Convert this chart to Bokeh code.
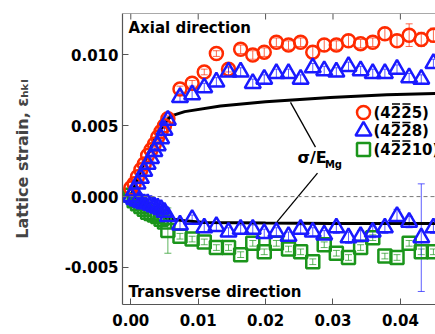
from bokeh.plotting import figure
from bokeh.models import (ColumnDataSource, Range1d, LinearAxis, FixedTicker, NumeralTickFormatter,
                          Span, Whisker, TeeHead)
from bokeh.core.properties import value
from bokeh.embed import file_html
from bokeh.resources import INLINE

# ---------------- data ----------------
x_early = [0.0000, 0.0005, 0.0010, 0.0015, 0.0020, 0.0025, 0.0030, 0.0035, 0.0040, 0.0045, 0.0050, 0.0055]
x_late = [0.0073, 0.0091, 0.0109, 0.0127, 0.0145, 0.0163, 0.0181, 0.0198, 0.0216, 0.0234, 0.0252,
          0.0270, 0.0287, 0.0305, 0.0323, 0.0341, 0.0359, 0.0377, 0.0395, 0.0413, 0.0431, 0.0449]

# (4-2-25) axial
red_early = [0.0006, 0.0009, 0.0014, 0.0019, 0.0023, 0.0029, 0.0033, 0.0037, 0.0042, 0.0046, 0.0050, 0.0055]
red_late = [0.0076, 0.0080, 0.0088, 0.0101, 0.0090, 0.0104, 0.0100, 0.0102, 0.0109, 0.0107, 0.0109,
            0.0102, 0.0107, 0.0107, 0.0110, 0.0108, 0.0109, 0.0115, 0.0110, 0.0114, 0.0111, 0.0114]
red_err_early = [0.0002] * 12
red_err_late = [0.0002, 0.0002, 0.0002, 0.0002, 0.0002, 0.0003, 0.0003, 0.0003, 0.0003, 0.0003, 0.0003,
                0.0004, 0.0004, 0.0003, 0.0004, 0.0003, 0.0003, 0.0004, 0.0004, 0.0008, 0.0005, 0.0005]

# (4-2-28) axial
blue_early = [0.0000, 0.0004, 0.0009, 0.0013, 0.0018, 0.0023, 0.0027, 0.0032, 0.0036, 0.0041, 0.0047, 0.0054]
blue_late = [0.0070, 0.0072, 0.0077, 0.0081, 0.0088, 0.0088, 0.0080, 0.0083, 0.0087, 0.0087, 0.0083,
             0.0091, 0.0089, 0.0088, 0.0092, 0.0089, 0.0087, 0.0087, 0.0090, 0.0084, 0.0083, 0.0094]
blue_err_early = [0.0002] * 12
blue_err_late = [0.0003] * 22

# (4-2-28) transverse
blue_t_early = [0.0000, -0.0002, -0.0003, -0.0004, -0.0005, -0.0005, -0.0006, -0.0007, -0.0008, -0.0009, -0.0011, -0.0014]
blue_t_late = [-0.0020, -0.0016, -0.0022, -0.0021, -0.0025, -0.0023, -0.0023, -0.0026, -0.0025, -0.0028, -0.0023,
               -0.0025, -0.0027, -0.0022, -0.0029, -0.0028, -0.0025, -0.0022, -0.0014, -0.0018, -0.0029, -0.0022]
blue_t_err_early = [0.0002] * 12
blue_t_err_late = [0.0003, 0.0003, 0.0003, 0.0003, 0.0003, 0.0003, 0.0003, 0.0003, 0.0003, 0.0003, 0.0003,
                   0.0003, 0.0003, 0.0004, 0.0004, 0.0004, 0.0004, 0.0004, 0.0005, 0.0004, 0.0038, 0.0004]

# (4-2-210) transverse
green_early = [0.0001, -0.0003, -0.0005, -0.0007, -0.0009, -0.0011, -0.0012, -0.0013, -0.0014, -0.0016, -0.0018, -0.0024]
green_late = [-0.0028, -0.0030, -0.0032, -0.0036, -0.0036, -0.0041, -0.0033, -0.0039, -0.0033, -0.0037, -0.0039,
              -0.0046, -0.0034, -0.0040, -0.0043, -0.0036, -0.0029, -0.0042, -0.0043, -0.0033, -0.0039, -0.0039]
green_err_early = [0.0002] * 11 + [0.0016]
green_err_late = [0.0002] * 22

# sigma / E_Mg curves
curve_ax_x = [0.0, 0.0017, 0.0035, 0.0050, 0.0060, 0.0080, 0.0133, 0.0200, 0.0296, 0.0380, 0.0460]
curve_ax_y = [0.0, 0.0021, 0.0040, 0.0052, 0.0057, 0.0060, 0.0064, 0.0067, 0.0070, 0.0072, 0.0073]
curve_tr_x = [0.0, 0.0054, 0.0080, 0.0110, 0.0200, 0.0300, 0.0460]
curve_tr_y = [0.0, -0.00155, -0.0017, -0.00183, -0.00187, -0.0019, -0.0019]

# pointer lines for the sigma/E_Mg label
ptr_x0 = [0.0237, 0.0277]
ptr_y0 = [0.00665, 0.00166]
ptr_x1 = [0.0274, 0.0217]
ptr_y1 = [0.00349, -0.00178]

x_ticks = [0.00, 0.01, 0.02, 0.03, 0.04]
y_ticks = [-0.005, 0.000, 0.005, 0.010]

labels = ["(4225)", "(4228)", "(42210)"]   # the two 2s carry an over-bar

RED = "#ff2a00"
BLUE = "#1a1aff"
GREEN = "#1b951b"
FONT = "DejaVu Sans"

X0, X1 = -0.00123, 0.04521
Y0, Y1 = -0.00762, 0.01293

# frame geometry (screen px) used to place the legend block
FRAME_L, FRAME_T, FRAME_W, FRAME_H = 122, 13, 313, 291


def px2x(px):
    return X0 + (px - FRAME_L) / FRAME_W * (X1 - X0)


def px2y(py):
    return Y1 - (py - FRAME_T) / FRAME_H * (Y1 - Y0)


# ---------------- figure ----------------
p = figure(width=435, height=334, output_backend="svg", toolbar_location=None,
           x_range=Range1d(X0, X1), y_range=Range1d(Y0, Y1),
           min_border_left=FRAME_L, min_border_right=0, min_border_top=FRAME_T, min_border_bottom=30,
           x_axis_location=None, y_axis_location=None)
p.outline_line_color = None
p.xgrid.visible = False
p.ygrid.visible = False
p.background_fill_color = "white"

AXC = "#555555"


def style_axis(ax):
    ax.axis_line_color = AXC
    ax.axis_line_width = 1.2
    ax.major_tick_line_color = AXC
    ax.major_tick_in = 6
    ax.major_tick_out = 0
    ax.minor_tick_line_color = None
    ax.major_label_text_font = FONT
    ax.major_label_text_font_style = "bold"
    ax.major_label_text_font_size = "15px"
    ax.major_label_text_color = "black"


xb = LinearAxis(ticker=FixedTicker(ticks=x_ticks), formatter=NumeralTickFormatter(format="0.00"))
style_axis(xb)
xb.major_label_standoff = 9
p.add_layout(xb, "below")

yl = LinearAxis(ticker=FixedTicker(ticks=y_ticks), formatter=NumeralTickFormatter(format="0.000"))
style_axis(yl)
yl.major_label_standoff = 4
yl.axis_label = "Lattice strain, \u03b5\u2095\u2096\u2097"
yl.axis_label_text_font = FONT
yl.axis_label_text_font_style = "bold"
yl.axis_label_text_font_size = "16px"
yl.axis_label_standoff = 30
p.add_layout(yl, "left")

# top border with inward ticks
p.add_layout(Span(location=Y1, dimension="width", line_color=AXC, line_width=1.2))
tick_len = (Y1 - Y0) * 6 / FRAME_H
p.segment(x0=x_ticks, y0=[Y1] * len(x_ticks), x1=x_ticks, y1=[Y1 - tick_len] * len(x_ticks),
          line_color=AXC, line_width=1)

p.add_layout(Span(location=0, dimension="width", line_color="#777777", line_dash="4 3", line_width=1))

# sigma/E curves
p.line(curve_ax_x, curve_ax_y, line_color="black", line_width=3)
p.line(curve_tr_x, curve_tr_y, line_color="black", line_width=3)
p.segment(x0=ptr_x0, y0=ptr_y0, x1=ptr_x1, y1=ptr_y1, line_color="black", line_width=1.3)


def series(xv, yv, ev, color):
    src = ColumnDataSource(dict(x=xv, y=yv, lo=[a - b for a, b in zip(yv, ev)], hi=[a + b for a, b in zip(yv, ev)]))
    w = Whisker(source=src, base="x", lower="lo", upper="hi", line_color=color, line_width=1, line_alpha=0.7,
                upper_head=TeeHead(size=7, line_color=color, line_alpha=0.7),
                lower_head=TeeHead(size=7, line_color=color, line_alpha=0.7))
    p.add_layout(w)
    return src


s_green = series(x_early + x_late, green_early + green_late, green_err_early + green_err_late, GREEN)
s_blue_t = series(x_early + x_late, blue_t_early + blue_t_late, blue_t_err_early + blue_t_err_late, BLUE)
s_red = series(x_early + x_late, red_early + red_late, red_err_early + red_err_late, RED)
s_blue = series(x_early + x_late, blue_early + blue_late, blue_err_early + blue_err_late, BLUE)

MK = dict(red=("circle", 13, RED), blue=("triangle", 16, BLUE), green=("square", 13, GREEN))

for src, key in ((s_green, "green"), (s_blue_t, "blue"), (s_red, "red"), (s_blue, "blue")):
    m, sz, c = MK[key]
    p.scatter("x", "y", source=src, marker=m, size=sz, fill_color=None, line_color=c, line_width=2.5)

# texts
p.text(x=[-0.00034], y=[0.01188], text=["Axial direction"], text_font=value(FONT), text_font_style="bold",
       text_font_size="15px", text_baseline="middle", text_align="left", text_color="black")
p.text(x=[-0.00034], y=[-0.00676], text=["Transverse direction"], text_font=value(FONT), text_font_style="bold",
       text_font_size="15px", text_baseline="middle", text_align="left", text_color="black")
p.text(x=[0.02473], y=[0.00279], text=["\u03c3/E"], text_font=value(FONT), text_font_style="bold",
       text_font_size="16px", text_baseline="middle", text_align="left", text_color="black")
p.text(x=[0.02880], y=[0.00228], text=["Mg"], text_font=value(FONT), text_font_style="bold",
       text_font_size="10px", text_baseline="middle", text_align="left", text_color="black")

# legend block (drawn by hand so that the markers are full size and the 2s get over-bars)
LEG_GLYPH_PX = 363
LEG_TEXT_PX = 373
LEG_ROWS_PX = [112, 130.5, 149]
LEG_FS = 15
for (key, lab, py) in zip(("red", "blue", "green"), labels, LEG_ROWS_PX):
    m, sz, c = MK[key]
    p.scatter([px2x(LEG_GLYPH_PX)], [px2y(py)], marker=m, size=sz, fill_color=None, line_color=c, line_width=2.5)
    p.text(x=[px2x(LEG_TEXT_PX)], y=[px2y(py)], text=[lab], text_font=value(FONT), text_font_style="bold",
           text_font_size=f"{LEG_FS}px", text_baseline="middle", text_align="left", text_color="black")
    # over-bars above the 3rd and 4th characters
    w_par, w_dig = 0.457 * LEG_FS, 0.696 * LEG_FS
    bx0 = [LEG_TEXT_PX + w_par + w_dig * k + 1.2 for k in (1, 2)]
    bx1 = [LEG_TEXT_PX + w_par + w_dig * (k + 1) - 1.2 for k in (1, 2)]
    by = py - 8.5
    p.segment(x0=[px2x(v) for v in bx0], y0=[px2y(by)] * 2, x1=[px2x(v) for v in bx1], y1=[px2y(by)] * 2,
              line_color="black", line_width=1.6)

open("out.html", "w").write(file_html(p, INLINE))
